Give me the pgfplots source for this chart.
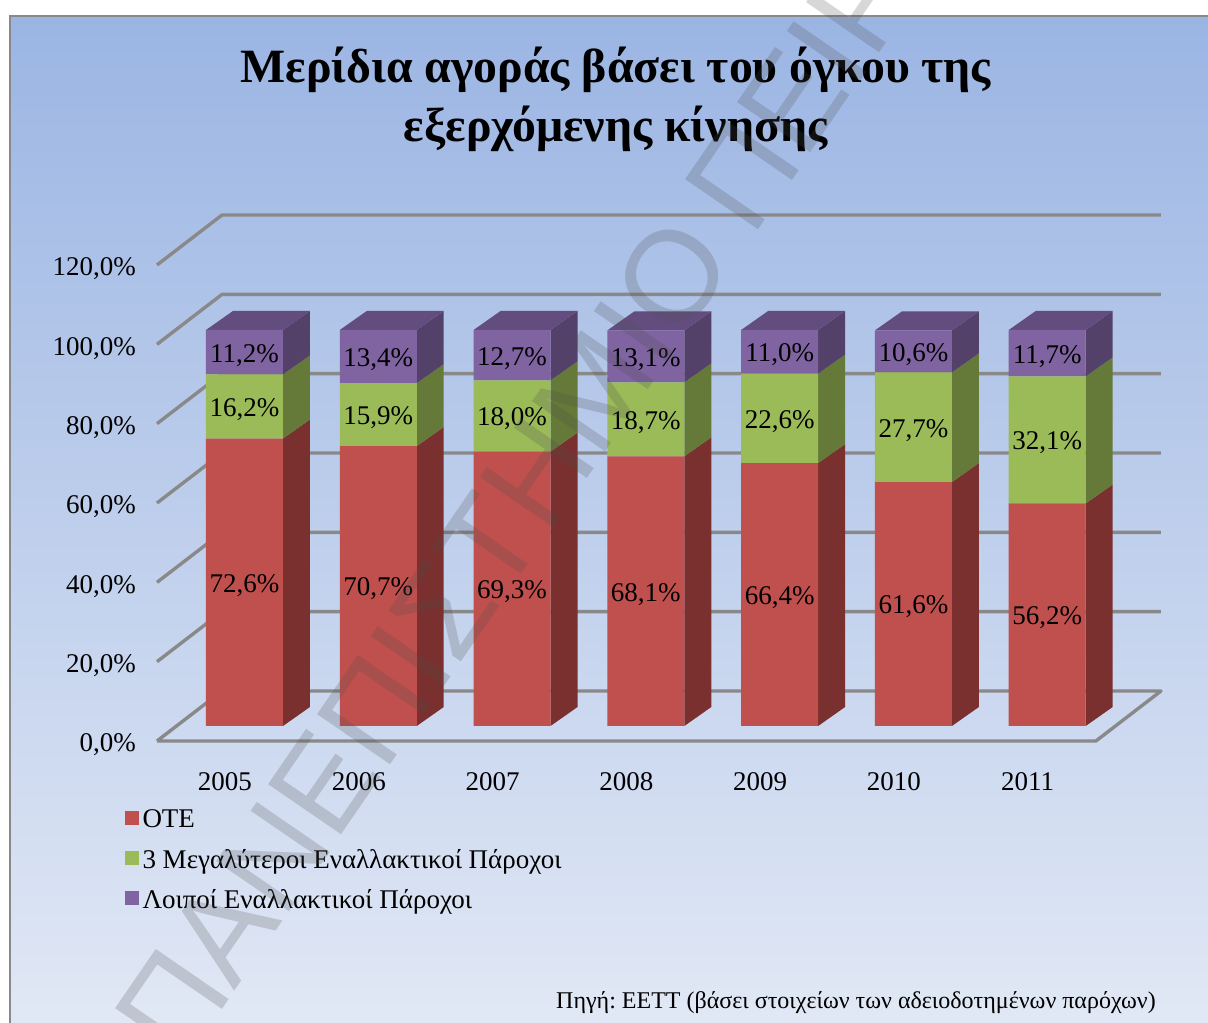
\documentclass[border=0pt]{standalone}
\usepackage{fontspec}
\setmainfont{Liberation Serif}
\newfontfamily\wmfont{Liberation Sans}
\usepackage{pgfplots}
\pgfplotsset{compat=1.18}
\usepackage{pgfplotstable}
\definecolor{cRed}{HTML}{C0504D}
\definecolor{cGreen}{HTML}{9BBB59}
\definecolor{cPurple}{HTML}{8064A2}
\definecolor{sRed}{HTML}{7A302E}
\definecolor{sGreen}{HTML}{657A38}
\definecolor{sPurple}{HTML}{534169}
\definecolor{tPurple}{HTML}{634D7F}
\definecolor{cGrid}{HTML}{898989}
\pgfplotstableread{
year ote big other
2005 72.6 16.2 11.2
2006 70.7 15.9 13.4
2007 69.3 18.0 12.7
2008 68.1 18.7 13.1
2009 66.4 22.6 11.0
2010 61.6 27.7 10.6
2011 56.2 32.1 11.7
}\shares
\pgfplotsset{
  geom/.style={scale only axis, width=1004pt, xmin=2004.492, xmax=2011.996, ymin=0, ymax=120, clip=false},
  barlabels/.style={
    point meta=explicit,
    nodes near coords={\pgfmathprintnumber[fixed,fixed zerofill,precision=1,use comma,assume math mode=true]{\pgfplotspointmeta}\%},
    every node near coord/.append style={anchor=center, inner sep=0pt, font=\fontsize{27}{30}\selectfont, text=black, yshift=-3pt},
  },
}
\begin{document}
\frenchspacing
\begin{tikzpicture}
\path[use as bounding box] (0,0) rectangle (1208pt,1023pt);
\fill[white] (0,0) rectangle (1208pt,1023pt);
\shade[top color={rgb,255:red,155;green,181;blue,227}, bottom color={rgb,255:red,225;green,232;blue,245}, shading angle=0] (10pt,0pt) rectangle (1208pt,1007pt);
\draw[color=cGrid, line width=2.6pt] (10pt,-5pt) -- (10pt,1007pt) -- (1215pt,1007pt);

% walls and ticks
\begin{axis}[geom, height=476pt, at={(157pt,282pt)}, anchor=south west,
  axis line style={draw=none}, tick style={draw=none}, major tick length=0pt,
  xtick={2005,2006,2007,2008,2009,2010,2011},
  ytick={0,20,40,60,80,100,120},
  xticklabel style={/pgf/number format/1000 sep=, /pgf/number format/assume math mode=true, font=\fontsize{27}{30}\selectfont, yshift=-31pt, inner sep=0pt},
  yticklabel={\pgfmathprintnumber[fixed,fixed zerofill,precision=1,use comma,assume math mode=true]{\tick}\%},
  yticklabel style={font=\fontsize{27}{30}\selectfont, xshift=-21pt, yshift=-4pt, inner sep=0pt},
  title={Μερίδια αγοράς βάσει του όγκου της\\εξερχόμενης κίνησης},
  title style={align=center, font=\fontsize{47.8}{59}\selectfont\bfseries, at={(0.457,1.336)}, anchor=center, inner sep=0pt},
]
\addplot[cGrid, line width=3.4pt, line join=round] coordinates {(2004.492,0)(2004.978,12.6)(2011.996,12.6)(2011.51,0)(2004.492,0)};
\addplot[cGrid, line width=3.4pt, line join=round] coordinates {(2004.492,20)(2004.978,32.6)(2011.996,32.6)};
\addplot[cGrid, line width=3.4pt, line join=round] coordinates {(2004.492,40)(2004.978,52.6)(2011.996,52.6)};
\addplot[cGrid, line width=3.4pt, line join=round] coordinates {(2004.492,60)(2004.978,72.6)(2011.996,72.6)};
\addplot[cGrid, line width=3.4pt, line join=round] coordinates {(2004.492,80)(2004.978,92.6)(2011.996,92.6)};
\addplot[cGrid, line width=3.4pt, line join=round] coordinates {(2004.492,100)(2004.978,112.6)(2011.996,112.6)};
\addplot[cGrid, line width=3.4pt, line join=round] coordinates {(2004.492,120)(2004.978,132.6)(2011.996,132.6)};
\end{axis}

% side and top faces of the bars
\begin{axis}[geom, height=475.2pt, at={(176.5pt,297pt)}, anchor=south west, hide axis]
\addplot[fill=sRed, draw=none, unbounded coords=jump] coordinates {
(2005.2877,0)(2005.4895,4.8)(2005.4895,77.4)(2005.2877,72.6)(2005.4,nan)
(2006.2877,0)(2006.4895,4.8)(2006.4895,75.5)(2006.2877,70.7)(2006.4,nan)
(2007.2877,0)(2007.4895,4.8)(2007.4895,74.1)(2007.2877,69.3)(2007.4,nan)
(2008.2877,0)(2008.4895,4.8)(2008.4895,72.9)(2008.2877,68.1)(2008.4,nan)
(2009.2877,0)(2009.4895,4.8)(2009.4895,71.2)(2009.2877,66.4)(2009.4,nan)
(2010.2877,0)(2010.4895,4.8)(2010.4895,66.4)(2010.2877,61.6)(2010.4,nan)
(2011.2877,0)(2011.4895,4.8)(2011.4895,61.0)(2011.2877,56.2)
};
\addplot[fill=sGreen, draw=none, unbounded coords=jump] coordinates {
(2005.2877,72.6)(2005.4895,77.4)(2005.4895,93.6)(2005.2877,88.8)(2005.4,nan)
(2006.2877,70.7)(2006.4895,75.5)(2006.4895,91.4)(2006.2877,86.6)(2006.4,nan)
(2007.2877,69.3)(2007.4895,74.1)(2007.4895,92.1)(2007.2877,87.3)(2007.4,nan)
(2008.2877,68.1)(2008.4895,72.9)(2008.4895,91.6)(2008.2877,86.8)(2008.4,nan)
(2009.2877,66.4)(2009.4895,71.2)(2009.4895,93.8)(2009.2877,89.0)(2009.4,nan)
(2010.2877,61.6)(2010.4895,66.4)(2010.4895,94.1)(2010.2877,89.3)(2010.4,nan)
(2011.2877,56.2)(2011.4895,61.0)(2011.4895,93.1)(2011.2877,88.3)
};
\addplot[fill=sPurple, draw=none, unbounded coords=jump] coordinates {
(2005.2877,88.8)(2005.4895,93.6)(2005.4895,104.8)(2005.2877,100)(2005.4,nan)
(2006.2877,86.6)(2006.4895,91.4)(2006.4895,104.8)(2006.2877,100)(2006.4,nan)
(2007.2877,87.3)(2007.4895,92.1)(2007.4895,104.8)(2007.2877,100)(2007.4,nan)
(2008.2877,86.8)(2008.4895,91.6)(2008.4895,104.7)(2008.2877,99.9)(2008.4,nan)
(2009.2877,89.0)(2009.4895,93.8)(2009.4895,104.8)(2009.2877,100)(2009.4,nan)
(2010.2877,89.3)(2010.4895,94.1)(2010.4895,104.7)(2010.2877,99.9)(2010.4,nan)
(2011.2877,88.3)(2011.4895,93.1)(2011.4895,104.8)(2011.2877,100)
};
\addplot[fill=tPurple, draw=none, unbounded coords=jump] coordinates {
(2004.7123,100)(2005.2877,100)(2005.4895,104.8)(2004.9141,104.8)(2005.4,nan)
(2005.7123,100)(2006.2877,100)(2006.4895,104.8)(2005.9141,104.8)(2006.4,nan)
(2006.7123,100)(2007.2877,100)(2007.4895,104.8)(2006.9141,104.8)(2007.4,nan)
(2007.7123,99.9)(2008.2877,99.9)(2008.4895,104.7)(2007.9141,104.7)(2008.4,nan)
(2008.7123,100)(2009.2877,100)(2009.4895,104.8)(2008.9141,104.8)(2009.4,nan)
(2009.7123,99.9)(2010.2877,99.9)(2010.4895,104.7)(2009.9141,104.7)(2010.4,nan)
(2010.7123,100)(2011.2877,100)(2011.4895,104.8)(2010.9141,104.8)
};
\end{axis}

% front faces of the bars
\begin{axis}[geom, height=475.2pt, at={(176.5pt,297pt)}, anchor=south west, hide axis,
  ybar stacked, bar width=77pt,
  legend image code/.code={\fill[#1] (0pt,-5pt) rectangle (14pt,9pt); \path (18pt,0pt);},
  legend style={at={(0,0)}, anchor=north west, xshift=-52pt, yshift=-84pt, draw=none, fill=none,
    inner sep=0pt, outer sep=0pt, row sep=20pt, font=\fontsize{27}{30}\selectfont,
    nodes={inner sep=0pt}, legend cell align=left},
]
\addplot[fill=cRed, draw=none, barlabels] table[x=year, y=ote, meta=ote] {\shares};
\addplot[fill=cGreen, draw=none, barlabels] table[x=year, y=big, meta=big] {\shares};
\addplot[fill=cPurple, draw=none, barlabels] table[x=year, y=other, meta=other] {\shares};
\legend{ΟΤΕ, 3 Μεγαλύτεροι Εναλλακτικοί Πάροχοι, Λοιποί Εναλλακτικοί Πάροχοι}
\end{axis}

\node[anchor=base east, inner sep=0pt, font=\fontsize{24}{28}\selectfont] at (1156pt,14pt) {Πηγή: ΕΕΤΤ (βάσει στοιχείων των αδειοδοτημένων παρόχων)};

\begin{scope}
\clip (0,0) rectangle (1208pt,1023pt);
\node[rotate=55.5, anchor=base west, inner sep=0pt, opacity=0.22, text={rgb,255:red,77;green,77;blue,77}, font=\wmfont\fontsize{128.7}{130}\selectfont] at (182pt,-45pt) {ΠΑΝΕΠΙΣΤΗΜΙΟ\hspace{26pt}ΠΕΙΡΑΙΩΣ};
\end{scope}
\end{tikzpicture}
\end{document}
